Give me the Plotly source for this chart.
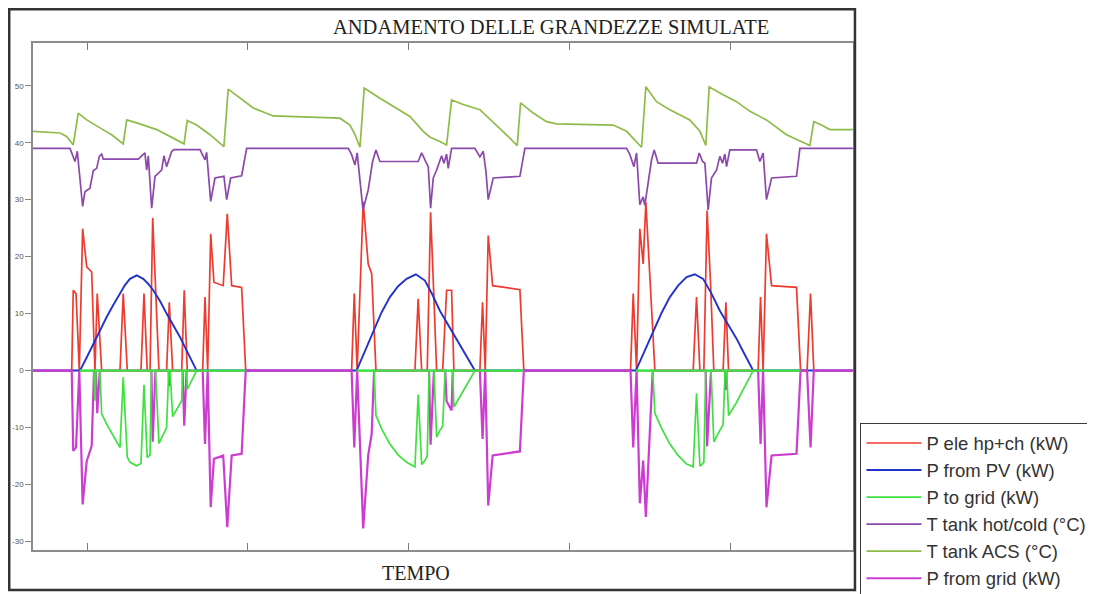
import plotly.graph_objects as go

# ---------------- data (time in hours from the start of the window) ----------------
P_ELE = [(0, 0), (3.34, 0), (3.47, 14.1), (3.71, 13.5), (3.99, 0), (4.28, 24.9), (4.63, 18.2), (5.06, 17.3),
         (5.34, 0), (5.54, 13.5), (5.92, 0), (7.50, 0), (7.78, 13.5), (8.13, 0), (9.31, 0), (9.57, 13.5),
         (9.85, 0), (10.09, 0), (10.32, 26.8), (10.52, 15.8), (10.86, 0), (11.52, 0), (11.75, 12.0), (12.04, 0),
         (12.82, 0), (13.04, 14.1), (13.30, 0), (14.63, 0), (14.83, 12.9), (15.06, 0), (15.32, 24.0),
         (15.60, 15.5), (16.40, 14.9), (16.75, 27.5), (17.13, 14.9), (17.99, 14.6), (18.34, 0),
         (27.47, 0), (27.70, 13.5), (27.95, 0), (28.47, 29.6), (28.90, 18.7), (29.20, 17.0), (29.57, 0),
         (32.93, 0), (33.21, 12.6), (33.51, 0), (33.99, 0), (34.28, 27.8), (34.51, 15.8), (34.80, 0),
         (35.32, 0), (35.66, 14.1), (36.09, 14.1), (36.29, 0), (38.53, 0), (38.76, 12.0), (38.99, 0),
         (39.25, 23.7), (39.63, 14.9), (41.98, 14.2), (42.32, 0),
         (51.52, 0), (51.75, 13.5), (52.04, 0), (52.32, 24.9), (52.61, 18.7), (52.84, 29.6), (53.13, 17.6),
         (53.62, 0), (56.92, 0), (57.21, 12.9), (57.50, 0), (57.84, 0), (58.12, 28.1), (58.42, 15.2),
         (58.70, 0), (59.50, 0), (59.74, 12.0), (59.97, 0), (62.52, 0), (62.73, 12.9), (62.95, 0),
         (63.24, 24.0), (63.68, 14.9), (65.83, 14.6), (66.18, 0), (66.74, 0), (67.04, 13.5), (67.32, 0),
         (70.68, 0)]

P_PV = [(0, 0), (4.05, 0), (4.63, 2.3), (5.20, 4.7), (5.78, 7.1), (6.35, 9.4), (6.92, 11.5), (7.50, 13.5),
        (7.93, 15.0), (8.36, 16.1), (8.94, 16.7), (9.51, 16.1), (9.94, 15.2), (10.37, 14.1), (10.95, 12.2),
        (11.52, 10.0), (12.09, 8.0), (12.67, 5.9), (13.10, 4.1), (13.53, 2.3), (14.11, 0),
        (27.90, 0), (28.62, 3.5), (29.33, 7.0), (30.05, 10.2), (30.77, 12.9), (31.48, 14.8), (32.21, 16.1),
        (33.01, 16.9), (33.79, 15.8), (34.44, 13.3), (35.08, 10.5), (35.80, 8.0), (36.52, 5.6), (37.09, 3.5),
        (37.67, 1.5), (38.10, 0),
        (51.98, 0), (52.75, 3.6), (53.47, 7.0), (54.19, 10.1), (54.91, 12.9), (55.62, 14.9), (56.35, 16.4),
        (57.06, 16.9), (57.78, 16.1), (58.50, 13.5), (59.22, 10.5), (59.94, 8.0), (60.66, 5.6), (61.16, 3.6),
        (61.66, 1.8), (62.09, 0), (70.68, 0)]

P_TO_GRID = [(4.05, 0), (5.26, 0), (5.34, -5.3), (5.43, 0), (5.76, 0), (5.92, -7.6), (6.35, -9.4), (6.92, -11.5),
             (7.50, -13.5), (7.78, -1.2), (8.13, -15.2), (8.36, -16.1), (8.94, -16.7), (9.31, -16.3),
             (9.57, -2.5), (9.85, -15.3), (10.09, -14.8), (10.21, 0), (10.56, 0), (10.86, -12.8),
             (11.52, -10.0), (11.70, 0), (11.82, 0), (12.04, -8.1), (12.82, -5.3), (12.90, 0), (13.24, 0),
             (13.30, -3.3), (13.53, -2.3), (14.11, 0), (None, None),
             (27.90, 0), (29.41, 0), (29.57, -7.9), (30.05, -10.2), (30.77, -12.9), (31.48, -14.8),
             (32.21, -16.1), (32.93, -16.9), (33.21, -4.2), (33.51, -16.5), (33.79, -15.8), (33.99, -15.0),
             (34.15, 0), (34.57, 0), (34.80, -11.7), (35.08, -10.5), (35.32, -9.8), (35.54, 0), (36.19, 0),
             (36.29, -6.4), (36.52, -5.6), (37.09, -3.5), (37.67, -1.5), (38.10, 0), (None, None),
             (51.98, 0), (53.43, 0), (53.62, -7.5), (54.19, -10.1), (54.91, -12.9), (55.62, -14.9),
             (56.35, -16.4), (56.92, -16.9), (57.21, -4.0), (57.50, -16.8), (57.84, -16.1), (58.00, 0),
             (58.46, 0), (58.70, -12.5), (59.22, -10.5), (59.50, -9.5), (59.67, 0), (59.81, 0), (59.97, -7.9),
             (60.66, -5.6), (61.16, -3.6), (61.66, -1.8), (62.09, 0)]

# spans in which the P-to-grid trace sits on zero over the whole daytime block
P_TO_GRID_ZERO = [(4.05, 0), (18.34, 0), (None, None), (27.90, 0), (42.32, 0), (None, None),
                  (51.98, 0), (66.18, 0)]

T_HOTCOLD = [(0, 39.0), (3.19, 39.0), (3.62, 36.7), (3.82, 38.5), (4.28, 28.8), (4.48, 31.4), (4.91, 32.0),
             (5.20, 35.1), (5.49, 35.5), (5.72, 37.6), (5.92, 38.0), (6.06, 37.1), (9.08, 37.1), (9.65, 38.2),
             (9.80, 35.2), (9.94, 37.7), (10.23, 28.5), (10.52, 34.1), (11.09, 35.2), (11.29, 37.7),
             (11.52, 35.8), (11.96, 38.5), (12.15, 38.8), (14.40, 38.8), (14.83, 37.0), (14.97, 38.3),
             (15.32, 29.7), (15.69, 33.8), (16.46, 34.1), (16.70, 30.0), (17.04, 33.8), (17.99, 34.2),
             (18.42, 39.0), (27.18, 39.0), (27.47, 37.9), (27.76, 36.1), (27.95, 38.2), (28.45, 28.2),
             (28.90, 31.7), (29.28, 36.7), (29.57, 38.7), (29.91, 36.7), (33.21, 36.7), (33.51, 38.2),
             (33.79, 37.0), (34.08, 35.8), (34.28, 28.5), (34.51, 33.8), (34.80, 35.2), (35.23, 37.7),
             (35.43, 36.4), (35.66, 38.0), (35.80, 35.5), (36.09, 39.0), (38.10, 39.0), (38.53, 37.5),
             (38.82, 38.5), (39.05, 35.0), (39.25, 30.0), (39.68, 33.8), (41.98, 34.1), (42.41, 39.0),
             (51.18, 39.0), (51.46, 37.9), (51.81, 35.8), (52.04, 38.2), (52.32, 29.1), (52.61, 30.5),
             (52.75, 29.0), (53.04, 33.5), (53.33, 37.0), (53.56, 38.7), (53.90, 36.4), (57.21, 36.4),
             (57.44, 38.2), (57.73, 36.7), (57.93, 36.4), (58.21, 28.2), (58.50, 33.8), (58.94, 35.2),
             (59.22, 37.6), (59.45, 36.4), (59.65, 38.0), (59.80, 35.8), (60.08, 38.75), (62.38, 38.75),
             (62.67, 36.7), (62.95, 38.2), (63.24, 30.0), (63.68, 33.8), (65.83, 34.1), (66.12, 39.0),
             (70.68, 39.0)]

T_ACS = [(0, 42.0), (2.33, 41.7), (2.90, 41.1), (3.47, 39.6), (3.90, 45.2), (4.63, 44.0), (5.78, 42.6),
         (6.78, 41.4), (7.78, 39.8), (8.08, 44.0), (9.22, 43.3), (10.66, 42.3), (12.09, 40.8), (13.02, 39.8),
         (13.30, 43.9), (14.11, 43.1), (15.26, 41.4), (16.46, 39.3), (16.83, 49.4), (17.84, 47.8),
         (18.99, 46.1), (20.71, 44.7), (24.74, 44.4), (26.46, 44.3), (27.33, 43.1), (27.76, 41.4),
         (28.19, 39.2), (28.56, 49.6), (29.91, 47.8), (31.35, 46.1), (32.50, 44.6), (33.64, 42.0),
         (34.22, 41.0), (35.08, 40.2), (35.66, 39.6), (36.09, 47.5), (37.09, 46.7), (38.53, 45.8),
         (39.97, 43.1), (41.12, 40.8), (41.75, 39.5), (42.04, 47.0), (43.13, 45.2), (44.28, 43.7),
         (45.14, 43.3), (50.02, 43.1), (51.18, 42.0), (51.89, 40.5), (52.47, 39.2), (52.84, 49.8),
         (53.76, 47.2), (54.91, 45.8), (56.63, 44.0), (57.50, 42.0), (58.01, 39.5), (58.30, 49.8),
         (59.50, 48.4), (60.66, 47.2), (61.81, 45.5), (63.24, 44.0), (64.97, 41.4), (66.98, 39.5),
         (67.32, 43.7), (67.99, 43.1), (68.70, 42.3), (70.68, 42.3)]

P_FROM_GRID = [(0, 0), (3.34, 0), (3.47, -14.1), (3.71, -13.5), (3.99, 0), (4.28, -23.5), (4.63, -15.9),
               (5.06, -13.2), (5.26, 0), (5.43, 0), (5.54, -7.5), (5.76, 0), (10.21, 0), (10.32, -12.5),
               (10.52, -2.0), (10.56, 0), (11.70, 0), (11.75, -2.8), (11.82, 0), (12.90, 0), (13.04, -9.7),
               (13.24, 0), (14.63, 0), (14.83, -12.9), (15.06, 0), (15.32, -24.0), (15.60, -15.5),
               (16.40, -14.9), (16.75, -27.5), (17.13, -14.9), (17.99, -14.6), (18.34, 0),
               (27.47, 0), (27.70, -13.5), (27.95, 0), (28.47, -27.7), (28.90, -14.9), (29.20, -11.1),
               (29.41, 0), (34.15, 0), (34.28, -13.0), (34.51, -2.5), (34.57, 0), (35.54, 0), (35.66, -5.4),
               (36.09, -7.0), (36.19, 0), (38.53, 0), (38.76, -12.0), (38.99, 0), (39.25, -23.7),
               (39.63, -14.9), (41.98, -14.2), (42.32, 0),
               (51.52, 0), (51.75, -13.5), (52.04, 0), (52.32, -23.3), (52.61, -15.8), (52.84, -25.7),
               (53.13, -12.4), (53.43, 0), (58.00, 0), (58.12, -13.3), (58.42, -1.6), (58.46, 0),
               (59.67, 0), (59.74, -3.4), (59.81, 0), (62.52, 0), (62.73, -12.9), (62.95, 0),
               (63.24, -24.0), (63.68, -14.9), (65.83, -14.6), (66.18, 0), (66.74, 0), (67.04, -13.5),
               (67.32, 0), (70.68, 0)]

Y_TICKS = [-30, -20, -10, 0, 10, 20, 30, 40, 50]
Y_TICK_TEXT = ["-30", "-20", "-10", "0", "10", "20", "30", "40", "50"]
X_TICKS = [4.66, 18.53, 32.41, 46.29, 60.17]
X_RANGE = [0, 70.7]
Y_RANGE = [-31.5, 57.5]

NAMES = ["P ele hp+ch (kW)", "P from PV (kW)", "P to grid (kW)", "T tank hot/cold (\u00b0C)",
         "T tank ACS (\u00b0C)", "P from grid (kW)"]
COLORS = ["#EE3B30", "#2233C8", "#3EE23E", "#8C48AA", "#8FBB48", "#CC3CD0"]


def xs(pairs):
    return [p[0] for p in pairs]


def ys(pairs):
    return [p[1] for p in pairs]


fig = go.Figure()


def add(pairs, idx, show=True, width=1.7):
    fig.add_trace(go.Scatter(
        x=xs(pairs), y=ys(pairs), mode="lines", name=NAMES[idx],
        line=dict(color=COLORS[idx], width=width), showlegend=show,
        legendrank=idx + 1, legendgroup="g%d" % idx, connectgaps=False,
        hoverinfo="skip"))


add(P_ELE, 0)
add(P_PV, 1, width=1.9)
add(P_FROM_GRID, 5, width=2.2)
add(P_TO_GRID_ZERO, 2, show=False, width=2.2)
add(P_TO_GRID, 2)
add(T_HOTCOLD, 3)
add(T_ACS, 4)

# the page body adds an 8 px offset, so the figure is 8 px smaller than the window
fig.update_layout(
    width=1087, height=586,
    margin=dict(l=25, r=242, t=35, b=44, autoexpand=False),
    paper_bgcolor="white", plot_bgcolor="white",
    showlegend=True,
    legend=dict(x=1.0085, xanchor="left", y=0.2505, yanchor="top",
                bgcolor="white", bordercolor="#3a3a3a", borderwidth=1.5,
                font=dict(family="Liberation Sans, Arial, sans-serif", size=18.5, color="#333333"),
                traceorder="grouped", tracegroupgap=0, itemwidth=55),
    xaxis=dict(range=X_RANGE, showline=True, linecolor="#8c8c8c", linewidth=1.5, mirror="ticks",
               ticks="inside", ticklen=7, tickcolor="#7a7a7a", tickvals=X_TICKS,
               showticklabels=False, showgrid=False, zeroline=False),
    yaxis=dict(range=Y_RANGE, showline=True, linecolor="#8c8c8c", linewidth=1.5, mirror=True,
               ticks="outside", ticklen=6, tickcolor="#888888", tickvals=Y_TICKS, ticktext=Y_TICK_TEXT,
               tickfont=dict(family="Liberation Sans, Arial, sans-serif", size=8, color="#555555"),
               showgrid=False, zeroline=False),
    shapes=[dict(type="rect", xref="paper", yref="paper", x0=-0.029, x1=1.0024, y0=-0.0789, y1=1.0667,
                 line=dict(color="#333333", width=2.5), fillcolor="rgba(0,0,0,0)")],
    annotations=[
        dict(text="ANDAMENTO DELLE GRANDEZZE SIMULATE", xref="paper", yref="paper", x=0.632, y=1.0316,
             xanchor="center", yanchor="middle", showarrow=False,
             font=dict(family="Liberation Serif, Times New Roman, serif", size=20.5, color="#222222")),
        dict(text="TEMPO", xref="paper", yref="paper", x=0.467, y=-0.0454,
             xanchor="center", yanchor="middle", showarrow=False,
             font=dict(family="Liberation Serif, Times New Roman, serif", size=20, color="#222222")),
    ],
)

fig.write_html("out.html")
